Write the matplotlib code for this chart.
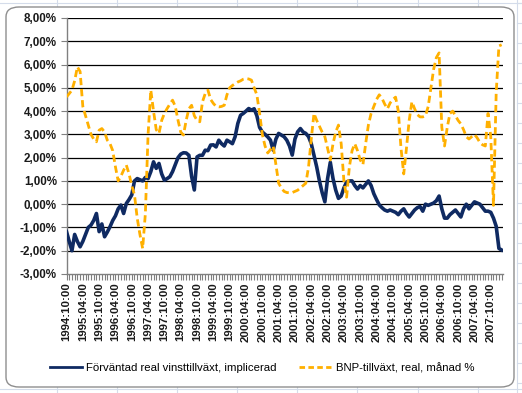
import numpy as np
import matplotlib
matplotlib.use("Agg")
import matplotlib.pyplot as plt
from matplotlib.patches import FancyBboxPatch
from matplotlib.lines import Line2D

# monthly observations, 1994:10 .. 2008:02
start_year, start_month = 1994, 10

vinst = [
    -1.18, -1.6, -2.0, -1.3, -1.6, -1.83, -1.6, -1.3, -1.0, -0.9,
    -0.7, -0.4, -1.18, -0.85, -1.4, -1.2, -0.97, -0.7, -0.5, -0.2,
    -0.04, -0.4, 0.03, 0.2, 0.4, 1.0, 1.1, 1.05, 1.0, 1.15,
    1.1, 1.4, 1.82, 1.54, 1.75, 1.3, 1.03, 1.1, 1.18, 1.4,
    1.7, 2.0, 2.15, 2.21, 2.2, 2.1, 1.2, 0.61, 2.03, 2.1,
    2.1, 2.32, 2.3, 2.54, 2.55, 2.46, 2.75, 2.6, 2.5, 2.75,
    2.68, 2.6, 2.9, 3.47, 3.82, 3.9, 4.0, 4.11, 4.04, 4.1,
    3.8, 3.3, 3.1, 3.0, 2.89, 2.75, 2.32, 2.8, 3.04, 2.97,
    2.9, 2.75, 2.5, 2.11, 2.8, 3.11, 3.25, 3.1, 3.04, 2.9,
    2.6, 2.1, 1.6, 1.0, 0.5, 0.1, 1.1, 1.8, 1.1, 0.6,
    0.25, 0.35, 0.7, 0.95, 1.0, 1.0, 0.8, 0.65, 0.8, 0.7,
    0.85, 1.0, 0.8, 0.45, 0.2, -0.03, -0.15, -0.25, -0.3, -0.25,
    -0.3, -0.35, -0.45, -0.3, -0.2, -0.4, -0.55, -0.4, -0.25, -0.15,
    -0.1, -0.3, 0.0, -0.05, 0.0, 0.05, 0.15, 0.35, -0.2, -0.6,
    -0.6, -0.45, -0.35, -0.25, -0.4, -0.55, -0.2, 0.0, -0.2, -0.05,
    0.1, 0.05, 0.0, -0.15, -0.3, -0.3, -0.35, -0.6, -0.95, -1.9,
    -1.97,
]

bnp = [
    4.61, 4.75, 4.9, 5.3, 5.9, 5.7, 4.2, 3.8, 3.4, 3.0,
    2.8, 2.68, 3.18, 3.25, 3.1, 2.75, 2.6, 2.3, 1.6, 1.0,
    1.2, 1.46, 1.68, 1.3, 0.8, 0.4, -0.6, -1.3, -1.9, -0.4,
    3.0, 4.9, 4.0, 3.2, 3.04, 3.6, 3.9, 4.11, 4.3, 4.47,
    4.2, 3.61, 3.1, 2.97, 3.6, 4.1, 4.25, 3.8, 3.6, 3.54,
    4.4, 4.75, 4.9, 4.5, 4.33, 4.2, 4.18, 4.2, 4.25, 4.7,
    5.0, 5.1, 5.18, 5.25, 5.3, 5.37, 5.4, 5.38, 5.33, 5.0,
    4.7, 3.9, 3.0, 2.5, 2.2, 2.35, 2.5, 1.7, 0.9, 0.7,
    0.55, 0.5, 0.49, 0.5, 0.55, 0.6, 0.7, 0.8, 0.9, 1.6,
    2.8, 3.9, 3.6, 3.35, 3.1, 2.9, 2.4, 1.9, 2.6, 3.1,
    3.4, 2.6, 1.0, 0.3, 1.6, 2.3, 2.6, 2.3, 1.9, 1.7,
    2.6, 3.4, 3.9, 4.2, 4.5, 4.7, 4.55, 4.3, 4.1, 4.35,
    4.5, 4.6, 4.0, 2.4, 1.3, 2.4, 3.6, 4.4, 4.1, 3.85,
    3.75, 3.75, 3.8, 4.2, 5.0, 5.8, 6.3, 6.5, 3.3, 2.5,
    3.3, 3.9, 4.0, 3.8, 3.6, 3.45, 3.2, 2.9, 2.8, 2.9,
    3.0, 2.85, 2.65, 2.55, 2.5, 3.9, 2.9, -0.05, 4.8, 6.8,
    6.85,
]

label_vinst = "Förväntad real vinsttillväxt, implicerad"
label_bnp = "BNP-tillväxt, real, månad %"

n = len(vinst)
x = np.arange(n)
labels = []
for i in range(n):
    m = start_month - 1 + i
    labels.append(f"{start_year + m // 12}:{m % 12 + 1:02d}:00")

W, H = 522, 393
fig = plt.figure(figsize=(W / 100, H / 100), dpi=100)
fig.patch.set_facecolor("white")

# spreadsheet grid behind the chart
grid_c = "#d4dcea"
for gx in [57, 117, 177, 237, 297, 357, 418, 478, 517]:
    fig.add_artist(Line2D([gx / W, gx / W], [0, 1], color=grid_c, lw=0.8, zorder=0))
for gy in [3, 389]:
    fig.add_artist(Line2D([0, 1], [1 - gy / H, 1 - gy / H], color=grid_c, lw=0.8, zorder=0))
for gy in range(3, 393, 20):
    fig.add_artist(Line2D([517 / W, 1], [1 - gy / H, 1 - gy / H], color=grid_c, lw=0.8, zorder=0))

box = FancyBboxPatch((6 / W, 6 / H), 508 / W, 380 / H,
                     boxstyle="round,pad=0,rounding_size=0.025",
                     transform=fig.transFigure, facecolor="white",
                     edgecolor="#8e8e8e", lw=1.0, zorder=1)
fig.add_artist(box)

ax = fig.add_axes([66.5 / W, 1 - 274 / H, (503 - 66.5) / W, 256 / H])
ax.set_facecolor("none")
ax.set_zorder(2)

ax.plot(x, vinst, color="#0f2a62", lw=2.6, solid_joinstyle="round", zorder=3)
ax.plot(x, bnp, color="#ffb000", lw=2.0, ls=(0, (2.6, 1.4)), zorder=4)

ax.set_ylim(-3, 8)
ax.set_xlim(0, n - 0.5)
ax.set_yticks(np.arange(-3, 9, 1))
ax.set_yticklabels([f"{v:.2f}%".replace(".", ",") for v in np.arange(-3, 9, 1)],
                   fontfamily="Liberation Sans", fontweight="bold", fontsize=8.4, color="#1a1a1a")
for v in range(-2, 9):
    ax.axhline(v, color="black", lw=0.9, zorder=1)

ax.set_xticks(x[::6])
ax.set_xticklabels(labels[::6], rotation=90, fontfamily="Liberation Sans",
                   fontweight="bold", fontsize=8.2, color="#1a1a1a")
ax.set_xticks(x, minor=True)
ax.tick_params(axis="x", which="both", length=4, color="#808080", width=0.8, pad=2)
ax.tick_params(axis="y", length=4, color="#808080", width=0.8, pad=3)

for s in ["top", "right"]:
    ax.spines[s].set_visible(False)
for s in ["left", "bottom"]:
    ax.spines[s].set_color("#808080")
    ax.spines[s].set_linewidth(1.0)

handles = [Line2D([], [], color="#0f2a62", lw=2.0),
           Line2D([], [], color="#ffb000", lw=2.0, ls=(0, (2.0, 1.2)))]
fig.legend(handles, [label_vinst, label_bnp], loc="center",
           bbox_to_anchor=(262 / W, 1 - 368 / H), ncol=2, frameon=False,
           handlelength=2.8, columnspacing=2.0, handletextpad=0.4,
           prop={"family": "Liberation Sans", "size": 8.2})

fig.savefig("out.png", dpi=100)
